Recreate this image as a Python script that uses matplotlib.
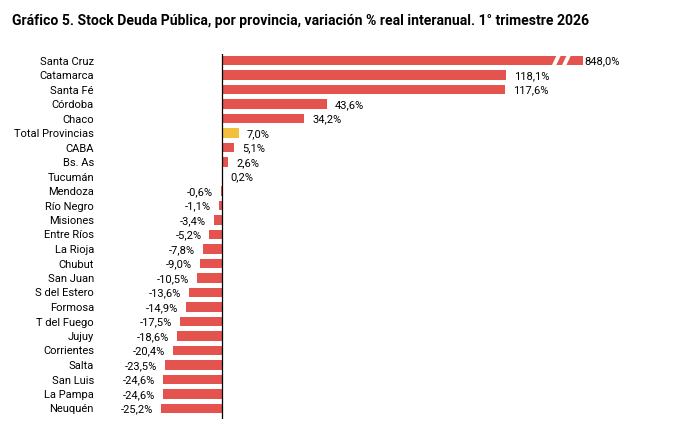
import matplotlib.pyplot as plt
from matplotlib.patches import Polygon
from matplotlib.transforms import blended_transform_factory

# data
provincias = ['Santa Cruz', 'Catamarca', 'Santa Fé', 'Córdoba', 'Chaco',
              'Total Provincias', 'CABA', 'Bs. As', 'Tucumán', 'Mendoza',
              'Río Negro', 'Misiones', 'Entre Ríos', 'La Rioja', 'Chubut',
              'San Juan', 'S del Estero', 'Formosa', 'T del Fuego', 'Jujuy',
              'Corrientes', 'Salta', 'San Luis', 'La Pampa', 'Neuquén']
variacion = [848.0, 118.1, 117.6, 43.6, 34.2, 7.0, 5.1, 2.6, 0.2, -0.6,
             -1.1, -3.4, -5.2, -7.8, -9.0, -10.5, -13.6, -14.9, -17.5, -18.6,
             -20.4, -23.5, -24.6, -24.6, -25.2]
tope_visible = 150.0   # Santa Cruz bar is cut with a break

ROJO = '#E5534F'
AMARILLO = '#F3C03E'

plt.rcParams['font.family'] = ['Roboto', 'DejaVu Sans']

W, H = 700, 435
px_per_pct = 2.405
x0 = 222
fig = plt.figure(figsize=(W / 100, H / 100), dpi=100)

n = len(provincias)
first_px, last_px = 61.5, 409.5
row_px = (last_px - first_px) / (n - 1)   # spacing between bars
top_px, bot_px = 55, 420
ax = fig.add_axes([0, (H - bot_px) / H, 1, (bot_px - top_px) / H])
ax.set_xlim(-x0 / px_per_pct, (W - x0) / px_per_pct)
ax.set_ylim((bot_px - first_px) / row_px, -(first_px - top_px) / row_px)
ax.axis('off')

ys = list(range(n))
fs = 8

for y, nombre, v in zip(ys, provincias, variacion):
    color = AMARILLO if nombre == 'Total Provincias' else ROJO
    largo = min(v, tope_visible)
    ax.barh(y, largo, height=0.66, color=color, linewidth=0)
    txt = f'{v:.1f}%'.replace('.', ',')
    if v > tope_visible:
        ax.annotate(txt, (largo, y), xytext=(2, 0), textcoords='offset pixels',
                    va='center', ha='left', fontsize=fs)
    elif v >= 0:
        ax.annotate(txt, (largo, y), xytext=(8, 0), textcoords='offset pixels',
                    va='center', ha='left', fontsize=fs)
    else:
        ax.annotate(txt, (largo, y), xytext=(-8, 0), textcoords='offset pixels',
                    va='center', ha='right', fontsize=fs)

# break marks on Santa Cruz bar
for xc in (139.0, 143.2):
    h = 0.35
    poly = Polygon([(xc - 1.9, h), (xc + 0.1, -h), (xc + 1.9, -h), (xc - 0.1, h)],
                   closed=True, facecolor='white', edgecolor='none', zorder=3)
    ax.add_patch(poly)

# category labels
trans = blended_transform_factory(fig.transFigure, ax.transData)
for y, nombre in zip(ys, provincias):
    ax.text(94 / W, y, nombre, transform=trans, ha='right', va='center', fontsize=fs)

ax.axvline(0, color='black', linewidth=0.9)

fig.text(12 / W, 1 - 21 / H,
         'Gráfico 5. Stock Deuda Pública, por provincia, variación % real interanual. 1° trimestre 2026',
         fontsize=10.1, fontweight='bold', ha='left', va='center')

fig.savefig('out.png', dpi=100)
